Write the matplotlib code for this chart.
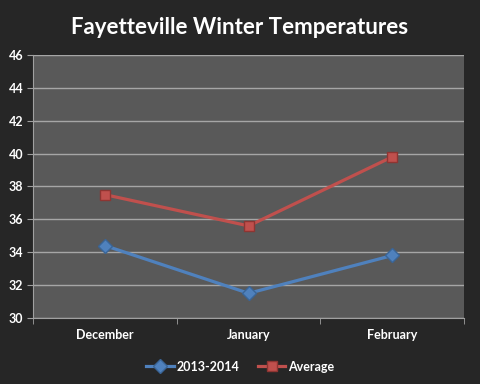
import matplotlib.pyplot as plt
from matplotlib.ticker import FixedLocator

months = ['December', 'January', 'February']
temps_2013 = [34.4, 31.5, 33.8]
temps_avg = [37.5, 35.6, 39.8]
yticks = [30, 32, 34, 36, 38, 40, 42, 44, 46]

plt.rcParams['font.family'] = ['Lato', 'DejaVu Sans']

fig = plt.figure(figsize=(4.8, 3.84), dpi=100, facecolor='#262626')
ax = fig.add_axes([0.069, 0.172, 0.898, 0.685], facecolor='#595959')

x = range(len(months))
ax.plot(x, temps_2013, color='#4F81BD', lw=2.3, marker='D', ms=7,
        mfc='#4F81BD', mec='#3A6597', label='2013-2014')
ax.plot(x, temps_avg, color='#C0504D', lw=2.3, marker='s', ms=7,
        mfc='#C0504D', mec='#8E3532', label='Average')

ax.set_xlim(-0.5, 2.5)
ax.set_ylim(30, 46)
ax.set_yticks(yticks)
ax.set_xticks(list(x))
ax.set_xticklabels(months)
ax.xaxis.set_minor_locator(FixedLocator([-0.5, 0.5, 1.5, 2.5]))
ax.tick_params(axis='x', which='major', length=0, pad=8)
ax.tick_params(axis='x', which='minor', length=4, color='#A0A0A0')
ax.tick_params(axis='y', length=4, color='#A0A0A0', pad=3)
for lbl in ax.get_xticklabels() + ax.get_yticklabels():
    lbl.set_color('white')
    lbl.set_fontweight('bold')
    lbl.set_fontsize(9)

ax.grid(axis='y', color='#A6A6A6', lw=1)
ax.set_axisbelow(True)
for side in ['top', 'right']:
    ax.spines[side].set_visible(False)
for side in ['left', 'bottom']:
    ax.spines[side].set_color('#A0A0A0')

fig.suptitle('Fayetteville Winter Temperatures', color='white',
             fontsize=16, fontweight='bold', y=0.955)

leg = fig.legend(loc='lower center', bbox_to_anchor=(0.5, 0.0), ncol=2,
                 frameon=False, handlelength=2.2, handletextpad=0.2,
                 columnspacing=1.5, prop={'weight': 'bold', 'size': 9})
for t in leg.get_texts():
    t.set_color('white')

fig.savefig('out.png', dpi=100, facecolor=fig.get_facecolor())
